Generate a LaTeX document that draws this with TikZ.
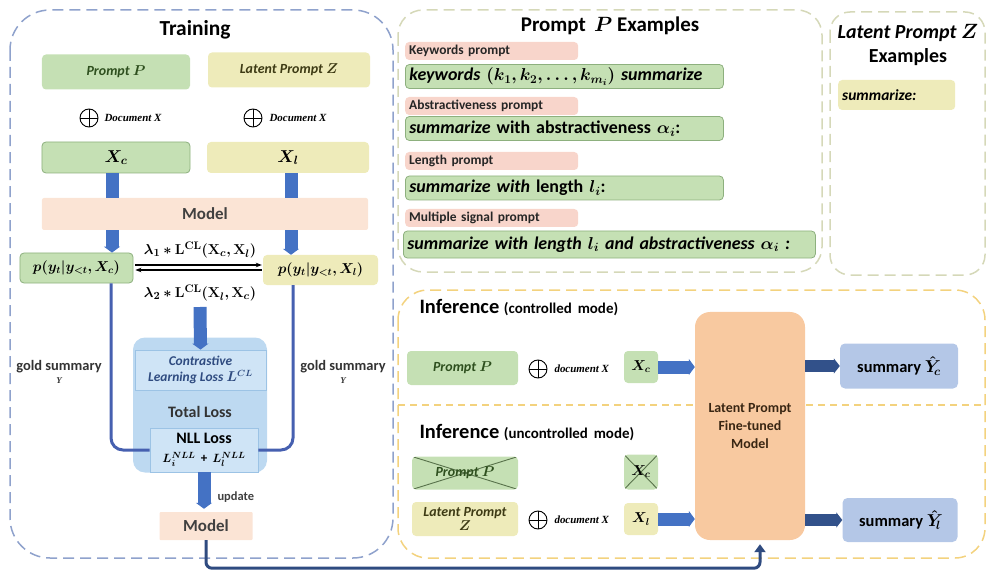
\documentclass[tikz,border=0pt]{standalone}
\usepackage{amsmath}
\usepackage{bm}
\usepackage[no-math]{fontspec}
\setmainfont{Carlito}
\newfontfamily\docfont{Liberation Serif}
\usetikzlibrary{arrows.meta,calc}

\definecolor{cgreen}{HTML}{C5E0B4}
\definecolor{cgreenline}{HTML}{8DB07E}
\definecolor{cyellow}{HTML}{EEEBBA}
\definecolor{cpeach}{HTML}{FBE4D5}
\definecolor{cpink}{HTML}{F8D5CB}
\definecolor{cblue}{HTML}{4472C4}
\definecolor{cgold}{HTML}{4660B0}
\definecolor{cdark}{HTML}{2F4B80}
\definecolor{ctotal}{HTML}{BDD9F1}
\definecolor{cinner}{HTML}{CFE4F6}
\definecolor{cinnerline}{HTML}{9CC3E5}
\definecolor{csum}{HTML}{B4C7E7}
\definecolor{corange}{HTML}{F8C9A0}
\definecolor{ctrain}{HTML}{8FA2CC}
\definecolor{cexam}{HTML}{D5D8B8}
\definecolor{cinfer}{HTML}{F3D27E}
\definecolor{cgreentext}{HTML}{2E4F1E}
\definecolor{cyellowtext}{HTML}{3D3A14}

\newcommand\fsz[2]{\fontsize{#1}{#2}\selectfont}

\tikzset{
  panel/.style={line width=1.5bp, dash pattern=on 11bp off 6bp},
  box/.style={rounded corners=4bp, inner sep=1bp, align=center},
  gbox/.style={box, fill=cgreen},
  ybox/.style={box, fill=cyellow},
  pinkbox/.style={box, fill=cpink, anchor=west, text width=165bp, minimum height=18bp,
    font=\bfseries\fsz{13.5}{14}, text=black!85, inner xsep=4bp, align=left},
  exbox/.style={box, fill=cgreen, draw=cgreenline, line width=0.8bp, anchor=west,
    minimum height=24bp, inner xsep=4bp, align=left, font=\bfseries\itshape\fsz{18}{19}},
  blk/.style={draw=cblue, line width=13bp, -{Triangle[length=6bp,width=16bp]}},
  flatbar/.style={draw=cblue, line width=13bp},
  darkblk/.style={draw=cdark!85!cblue, line width=12bp, -{Triangle[length=6bp,width=15bp]}},
  oplus/.style={circle, draw, line width=0.9bp, minimum size=18bp, inner sep=0pt,
    path picture={\draw[line width=0.9bp] (path picture bounding box.north) -- (path picture bounding box.south)
      (path picture bounding box.west) -- (path picture bounding box.east);}},
  doc/.style={font=\docfont\bfseries\itshape\fsz{11}{12}},
  smallbox/.style={font=\bfseries\itshape\fsz{14}{15}},
  crossed/.style={path picture={\draw[cgreentext!80, line width=0.9bp]
      (path picture bounding box.north west) -- (path picture bounding box.south east)
      (path picture bounding box.south west) -- (path picture bounding box.north east);}},
}

\begin{document}
\begin{tikzpicture}[x=1bp, y=-1bp]
\useasboundingbox (0,0) rectangle (991,574);

% ---------------- panels ----------------
\draw[panel, draw=ctrain, rounded corners=40bp] (10,10) rectangle (393,558);
\draw[panel, draw=cexam, rounded corners=25bp] (398,10) rectangle (822,272);
\draw[panel, draw=cexam, rounded corners=20bp] (830,12) rectangle (985,275);
\draw[panel, draw=cinfer, rounded corners=30bp] (398,290) rectangle (985,558);
\draw[draw=cinfer, line width=1.2bp, dash pattern=on 7bp off 5bp] (398,405) -- (985,405);

% ---------------- training ----------------
\node[font=\bfseries\fsz{21.5}{23}] (trtitle) at (195,30) {Training};

\node[gbox, smallbox, minimum width=148bp, minimum height=35bp, text=cgreentext] (promptP) at (116,72) {Prompt $\bm{P}$};
\node[ybox, smallbox, minimum width=162bp, minimum height=35bp, text=cyellowtext] (latZ) at (289,70) {Latent Prompt $\bm{Z}$};

\node[oplus] (op1) at (89,118) {};
\node[doc, anchor=west] (doc1) at (101,118) {Document X};
\node[oplus] (op2) at (253,118) {};
\node[doc, anchor=west] (doc2) at (266,118) {Document X};

\node[gbox, draw=cgreenline, line width=0.8bp, minimum width=148bp, minimum height=31bp, font=\fsz{18}{19}] (Xc) at (116,157.5) {$\bm{X_c}$};
\node[ybox, minimum width=162bp, minimum height=31bp, font=\fsz{18}{19}] (Xl) at (288,157.5) {$\bm{X_l}$};

\node[box, fill=cpeach, rounded corners=2bp, minimum width=326bp, minimum height=32bp, font=\bfseries\fsz{17}{18}, text=black!75] (model) at (205,214) {Model};

\draw[flatbar] ($(Xc.south)+(-4,0)$) -- ($(Xc.south |- model.north)+(-4,0)$);
\draw[flatbar] ($(Xl.south)+(3,0)$) -- ($(Xl.south |- model.north)+(3,0)$);

\node[gbox, draw=cgreenline, line width=0.8bp, minimum width=113bp, minimum height=30bp, font=\fsz{14.5}{15}] (probc) at (76.5,268) {$\bm{p(y_t|y_{<t},X_c)}$};
\node[ybox, minimum width=115bp, minimum height=30bp, font=\fsz{14.5}{15}] (probl) at (320.5,270) {$\bm{p(y_t|y_{<t},X_l)}$};

\draw[blk] ($(Xc.south |- model.south)+(-4,0)$) -- ($(Xc.south |- probc.north)+(-4,0)$);
\draw[blk] ($(Xl.south |- model.south)+(3,0)$) -- ($(Xl.south |- probl.north)+(3,0)$);

% contrastive terms between the two distributions
\coordinate (ra) at ($(probc.east)+(2,-3)$);
\coordinate (rb) at ($(probl.west)+(-1,-5)$);
\coordinate (la) at ($(probl.west)+(-1,0)$);
\coordinate (lb) at ($(probc.east)+(2,2)$);
\draw[line width=1.3bp, -{Stealth[length=6bp]}] (ra) -- (ra -| rb);
\draw[line width=1.3bp, -{Stealth[length=6bp]}] (lb -| la) -- (lb);
\node[font=\fsz{15.5}{16}] (lam1) at (200,250) {$\bm{\lambda_1 \ast \mathrm{L}^{\mathrm{CL}}(\mathrm{X}_{c},\mathrm{X}_{l})}$};
\node[font=\fsz{15.5}{16}] (lam2) at (200,293) {$\bm{\lambda_2 \ast \mathrm{L}^{\mathrm{CL}}(\mathrm{X}_{l},\mathrm{X}_{c})}$};

% total loss block
\node[fill=ctotal, rounded corners=12bp, minimum width=134bp, minimum height=135bp] (total) at (200,405) {};
\node[fill=cinner, draw=cinnerline, line width=0.8bp, minimum width=131bp, minimum height=40bp, align=center,
  font=\bfseries\itshape\fsz{13.5}{16}, text=cdark] (cl) at (200.5,370) {Contrastive\\Learning Loss $\bm{L^{CL}}$};
\node[font=\bfseries\fsz{16}{17}, text=black!80] (tl) at (200,412) {Total Loss};
\node[fill=cinner, draw=cinnerline, line width=0.8bp, minimum width=108bp, minimum height=44bp, align=center,
  font=\bfseries\fsz{16}{17}, inner sep=1bp] (nll) at (204,450) {NLL Loss\\[2bp]{\fsz{13}{14}$\bm{L_i^{NLL}}$\, + \,$\bm{L_l^{NLL}}$}};

\coordinate (clsrc) at (200,307);
\draw[blk] (clsrc) -- (cl.north);

% gold summary paths into the NLL loss
\draw[cgold, line width=3bp, rounded corners=12bp] ($(Xc.south |- probc.south)+(-5,0)$) -- ($(Xc.south |- nll.west)+(-5,0)$) -- (nll.west);
\draw[cgold, line width=3bp, rounded corners=12bp] ($(Xl.south |- probl.south)+(5,0)$) -- ($(Xl.south |- nll.east)+(5,0)$) -- (nll.east);

\node[font=\bfseries\fsz{14.5}{13}, align=center, text=black!80] (gs1) at (59,372) {gold summary\\{\docfont\itshape\fsz{9}{10}Y}};
\node[font=\bfseries\fsz{14.5}{13}, align=center, text=black!80] (gs2) at (343,372) {gold summary\\{\docfont\itshape\fsz{9}{10}Y}};

\node[box, fill=cpeach, rounded corners=1bp, minimum width=93bp, minimum height=28bp, font=\bfseries\fsz{17}{18}, text=black!75] (model2) at (206,526) {Model};
\draw[blk] (nll.south) -- ($(nll.south |- model2.north)+(0,-3)$);
\node[font=\bfseries\fsz{12.5}{13}, text=black!75, anchor=west] (upd) at (214,497) {update};

% ---------------- prompt P examples ----------------
\node[font=\bfseries\fsz{21}{23}] (extitle) at (610,26) {Prompt \,$\bm{P}$ Examples};

\node[pinkbox] (lab1) at (405,51) {Keywords prompt};
\node[exbox, text width=310bp] (ex1) at (405,76.5) {\mbox{keywords $\bm{(k_1, k_2, \ldots, k_{m_i})}$ summarize}};
\node[pinkbox] (lab2) at (405,106) {Abstractiveness prompt};
\node[exbox, text width=310bp] (ex2) at (405,128.5) {\mbox{summarize \upshape with abstractiveness $\bm{\alpha_i}$:}};
\node[pinkbox] (lab3) at (405,161) {Length prompt};
\node[exbox, text width=310bp] (ex3) at (405,188) {\mbox{summarize with \upshape length $\bm{l_i}$:}};
\node[pinkbox] (lab4) at (405,218) {Multiple signal prompt};
\node[exbox, text width=404bp, minimum height=27bp] (ex4) at (403,244.5) {\mbox{summarize with length $\bm{l_i}$ and abstractiveness $\bm{\alpha_i}$ :}};

% ---------------- latent prompt Z examples ----------------
\node[font=\bfseries\fsz{20}{25}, align=center] (ztitle) at (908,45) {\itshape Latent Prompt $\bm{Z}$\\\upshape Examples};
\node[ybox, anchor=west, minimum height=30bp, text width=109bp, align=left,
  font=\bfseries\itshape\fsz{15.5}{16}, inner xsep=4bp] (zex) at (838,95) {summarize:};

% ---------------- inference ----------------
\node[anchor=west, font=\bfseries\fsz{20.5}{22}] (inf1) at (416,308) {Inference {\fsz{15}{16}(controlled\, mode)}};
\node[anchor=west, font=\bfseries\fsz{20.5}{22}] (inf2) at (416,433) {Inference {\fsz{15}{16}(uncontrolled\, mode)}};

\node[box, fill=corange, rounded corners=15bp, minimum width=110bp, minimum height=228bp,
  font=\bfseries\fsz{14}{18}, text=black!70!brown] (big) at (750,426) {Latent Prompt\\Fine-tuned\\Model};

% controlled mode
\node[gbox, smallbox, minimum width=111bp, minimum height=34bp, text=cgreentext] (iP) at (462.5,368) {Prompt $\bm{P}$};
\node[oplus] (op3) at (538,369) {};
\node[doc, anchor=west] (doc3) at (551,369) {document X};
\node[gbox, minimum width=34bp, minimum height=32bp, font=\fsz{14}{15}] (iXc) at (641,367) {$\bm{X_c}$};
\draw[blk] (iXc.east) -- (iXc.east -| big.west);
\node[box, fill=csum, rounded corners=5bp, minimum width=118bp, minimum height=45bp, font=\bfseries\fsz{16.5}{17}] (sumc) at (899,366) {summary $\bm{\hat{Y}_{\!c}}$};
\draw[darkblk] (big.east |- sumc.west) -- (sumc.west);

% uncontrolled mode
\node[gbox, smallbox, crossed, minimum width=106bp, minimum height=33bp, text=cgreentext] (iPx) at (465,473) {Prompt $\bm{P}$};
\node[gbox, crossed, minimum width=34bp, minimum height=35bp, font=\fsz{14}{15}] (iXcx) at (641,472) {$\bm{X_c}$};
\node[ybox, minimum width=106bp, minimum height=34bp, font=\bfseries\itshape\fsz{14}{15}, text=cyellowtext] (iZ) at (465,519) {Latent Prompt\\$\bm{Z}$};
\node[oplus] (op4) at (538,520) {};
\node[doc, anchor=west] (doc4) at (551,520) {document X};
\node[ybox, minimum width=34bp, minimum height=32bp, font=\fsz{14}{15}] (iXl) at (641,519) {$\bm{X_l}$};
\draw[blk] (iXl.east) -- (iXl.east -| big.west);
\node[box, fill=csum, rounded corners=5bp, minimum width=115bp, minimum height=44bp, font=\bfseries\fsz{16.5}{17}] (suml) at (900,520) {summary $\bm{\hat{Y}_{\!l}}$};
\draw[darkblk] (big.east |- suml.west) -- (suml.west);

% trained model handed over to inference
\coordinate (handoff) at ($(big.south)+(10,4)$);
\draw[cdark, line width=3bp, rounded corners=6bp, -{Triangle[length=8bp,width=11bp]}]
  (model2.south) -- ($(model2.south)+(0,28)$) -| (handoff);
\end{tikzpicture}
\end{document}
